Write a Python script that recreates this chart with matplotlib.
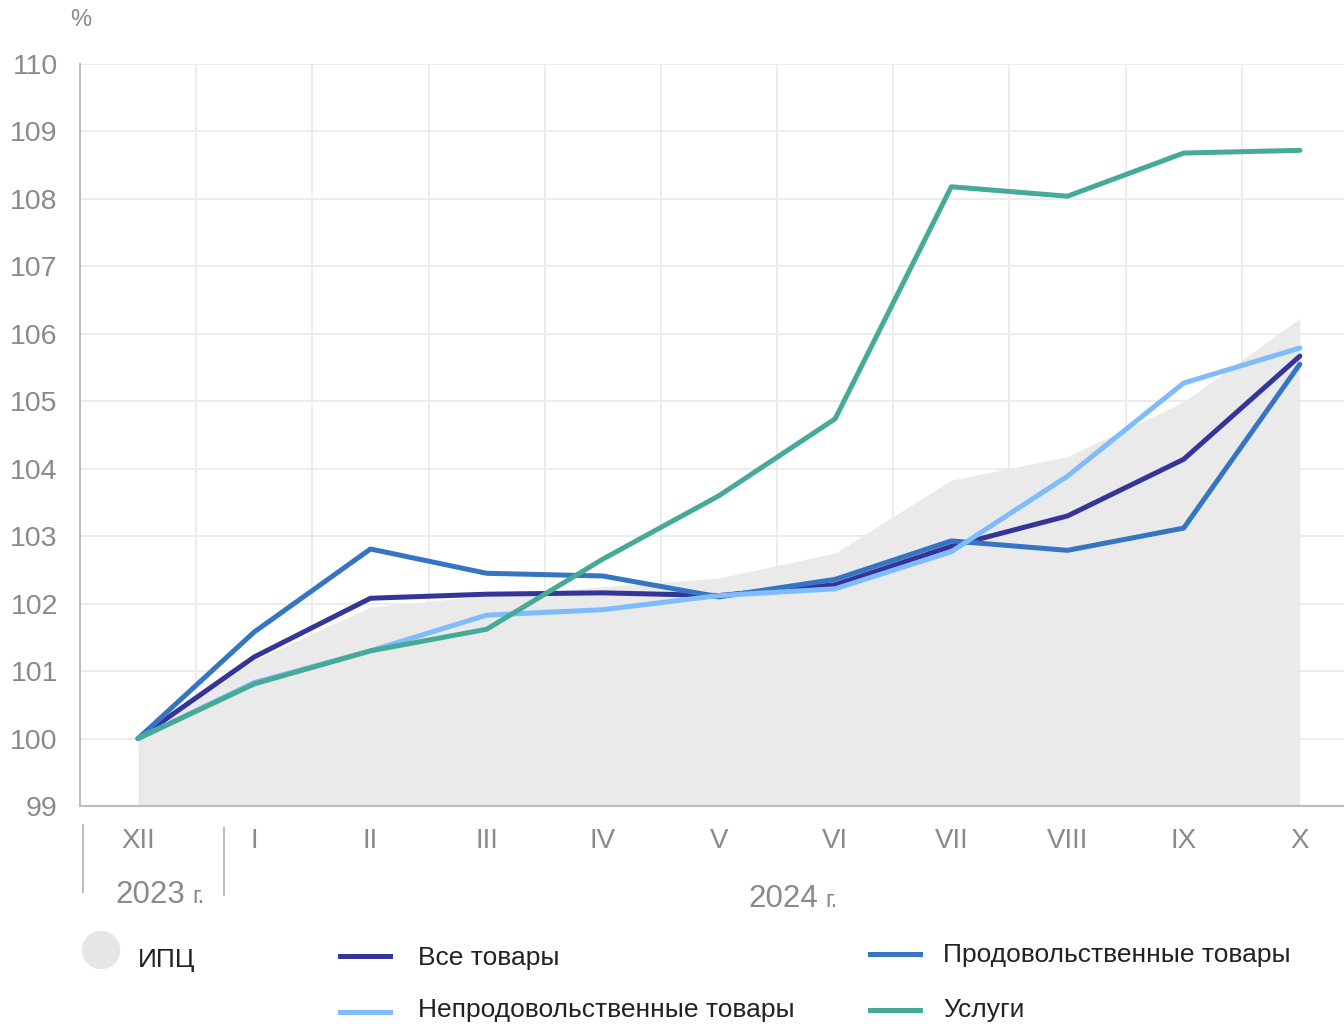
import matplotlib.pyplot as plt
from matplotlib.lines import Line2D
from matplotlib.patches import Ellipse

plt.rcParams['font.family'] = ['Liberation Sans', 'DejaVu Sans']

months = ["XII", "I", "II", "III", "IV", "V", "VI", "VII", "VIII", "IX", "X"]
cpi = [100, 101.16, 101.95, 102.12, 102.25, 102.38, 102.75, 103.83, 104.18, 104.99, 106.23]
all_goods = [100, 101.21, 102.08, 102.14, 102.16, 102.12, 102.28, 102.85, 103.30, 104.14, 105.67]
food = [100, 101.58, 102.81, 102.45, 102.41, 102.10, 102.36, 102.93, 102.79, 103.12, 105.55]
nonfood = [100, 100.83, 101.30, 101.83, 101.91, 102.12, 102.22, 102.77, 103.89, 105.27, 105.79]
services = [100, 100.81, 101.30, 101.62, 102.66, 103.60, 104.74, 108.18, 108.04, 108.68, 108.72]

series = [
    ("Все товары", all_goods, "#35349a"),
    ("Продовольственные товары", food, "#3674c4"),
    ("Непродовольственные товары", nonfood, "#7fbcfb"),
    ("Услуги", services, "#45ab98"),
]

W, H = 1344, 1024
fig = plt.figure(figsize=(W / 100, H / 100), dpi=100)
ax = fig.add_axes([80 / W, 1 - 806 / H, 1 - 80 / W, (806 - 64) / H])

x = list(range(len(months)))
ax.fill_between(x, 99, cpi, color="#eaeaea", lw=0, zorder=1)
for name, vals, col in series:
    ax.plot(x, vals, color=col, lw=3.6, solid_capstyle="round", zorder=3)

ax.set_xlim(-0.5, 10.38)
ax.set_ylim(99, 110)
ax.set_yticks(range(99, 111))
ax.set_xticks(x)
ax.set_xticklabels(months)
ax.set_xticks([i + 0.5 for i in range(10)], minor=True)
ax.grid(which="minor", axis="x", color="#ebebeb", lw=1.3)
ax.grid(which="major", axis="y", color="#ebebeb", lw=1.3)
ax.set_axisbelow(True)
ax.tick_params(axis="x", which="both", length=0, pad=16, labelsize=20, labelcolor="#8a8a8a")
ax.tick_params(axis="y", length=0, pad=16, labelsize=20.5, labelcolor="#8a8a8a")
for s in ["top", "right"]:
    ax.spines[s].set_visible(False)
for s in ["left", "bottom"]:
    ax.spines[s].set_color("#bdbdbd")
    ax.spines[s].set_linewidth(1.5)

fig.text(81 / W, 1 - 20 / H, "%", fontsize=17, color="#8a8a8a", ha="center", va="center")

# year separators and labels
for xs, y0, y1 in [(83, 825, 892), (224, 828, 895)]:
    fig.add_artist(Line2D([xs / W, xs / W], [1 - y0 / H, 1 - y1 / H], color="#bdbdbd", lw=1.5))
fig.text(115 / W, 1 - 903 / H, "2023", fontsize=22.5, color="#8a8a8a", ha="left", va="baseline")
fig.text(192 / W, 1 - 903 / H, "г.", fontsize=17, color="#8a8a8a", ha="left", va="baseline")
fig.text(748 / W, 1 - 907 / H, "2024", fontsize=22.5, color="#8a8a8a", ha="left", va="baseline")
fig.text(825 / W, 1 - 907 / H, "г.", fontsize=17, color="#8a8a8a", ha="left", va="baseline")

# legend
fig.add_artist(Ellipse((101 / W, 1 - 950 / H), 37 / W, 37 / H, color="#e6e6e6"))
fig.text(138 / W, 1 - 960 / H, "ИПЦ", fontsize=19, color="#222222", va="center")
legend_pos = {
    "Все товары": (340, 956, 418, 958),
    "Непродовольственные товары": (340, 1012, 418, 1010),
    "Продовольственные товары": (870, 954, 943, 955),
    "Услуги": (870, 1010, 943, 1010),
}
for name, vals, col in series:
    lx, ly, tx, ty = legend_pos[name]
    fig.add_artist(Line2D([lx / W, (lx + 50) / W], [1 - ly / H, 1 - ly / H], color=col, lw=3.6))
    fig.text(tx / W, 1 - ty / H, name, fontsize=19, color="#222222", va="center")

fig.savefig("out.png", dpi=100)
